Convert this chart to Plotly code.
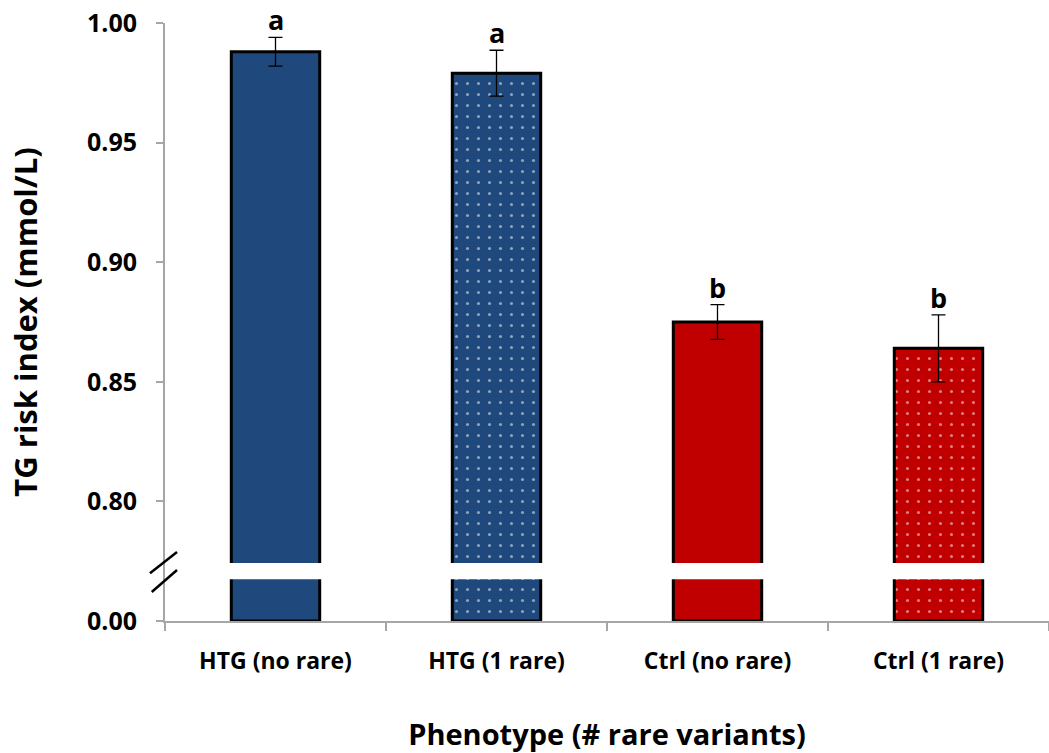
import plotly.graph_objects as go

categories = ["HTG (no rare)", "HTG (1 rare)", "Ctrl (no rare)", "Ctrl (1 rare)"]
values = [0.988, 0.979, 0.875, 0.864]
errors = [0.006, 0.0096, 0.0073, 0.014]
letters = ["a", "a", "b", "b"]
colors = ["#1F497D", "#1F497D", "#C00000", "#C00000"]
patterned = [False, True, False, True]
tick_vals = [0.75, 0.80, 0.85, 0.90, 0.95, 1.00]
tick_text = ["0.00", "0.80", "0.85", "0.90", "0.95", "1.00"]

BASE = 0.75
FONT = "Open Sans"

fig = go.Figure()
fig.add_trace(go.Bar(
    x=categories,
    y=[v - BASE for v in values],
    base=BASE,
    marker=dict(
        color=colors,
        line=dict(color="black", width=3),
        pattern=dict(
            shape=["." if p else "" for p in patterned],
            fgcolor="white",
            bgcolor=colors,
            size=11,
            solidity=0.06,
            fillmode="overlay",
        ),
    ),
    error_y=dict(type="data", array=errors, color="black", thickness=1.3, width=7),
    width=0.4,
    showlegend=False,
))

for c, v, e, l in zip(categories, values, errors, letters):
    fig.add_annotation(x=c, y=v + e, text=l, showarrow=False, yanchor="bottom",
                       yshift=-3, font=dict(family=FONT, size=27, color="black", weight="bold"))

# axis break band over bars
fig.add_shape(type="rect", xref="paper", yref="y", x0=0.003, x1=1.01,
              y0=0.7675, y1=0.7742, fillcolor="white",
              line=dict(width=0), layer="above")
# break marks on y axis
fig.add_shape(type="line", xref="paper", yref="y", x0=-0.017, x1=0.0136,
              y0=0.770, y1=0.7788, line=dict(color="black", width=2.5))
fig.add_shape(type="line", xref="paper", yref="y", x0=-0.015, x1=0.0136,
              y0=0.7621, y1=0.7713, line=dict(color="black", width=2.5))

fig.update_layout(
    width=1049, height=753,
    margin=dict(l=165, r=0, t=23, b=132, autoexpand=False),
    plot_bgcolor="white", paper_bgcolor="white",
    font=dict(family=FONT, color="black"),
    bargap=0.6,
)
fig.update_yaxes(
    range=[BASE, 1.0], tickvals=tick_vals, ticktext=tick_text,
    showline=True, linecolor="#A6A6A6", linewidth=2,
    ticks="outside", ticklen=7, tickcolor="#A6A6A6", tickwidth=2,
    showgrid=False, zeroline=False, automargin=False,
    tickfont=dict(family=FONT, size=25, color="black", weight="bold"),
    ticklabelstandoff=14,
    title=dict(text="TG risk index (mmol/L)", font=dict(family=FONT, size=31, weight="bold"), standoff=40),
)
fig.update_xaxes(
    showline=True, linecolor="#A6A6A6", linewidth=2,
    ticks="outside", tickson="boundaries", ticklen=8, tickcolor="#A6A6A6", tickwidth=2,
    showgrid=False, automargin=False,
    tickfont=dict(family=FONT, size=23, color="black", weight="bold"),
    ticklabelstandoff=18,
    title=dict(text="Phenotype (# rare variants)", font=dict(family=FONT, size=29, weight="bold"), standoff=68),
)

fig.write_html("out.html", config={"displayModeBar": False},
               post_script="document.body.style.margin='0px';")
